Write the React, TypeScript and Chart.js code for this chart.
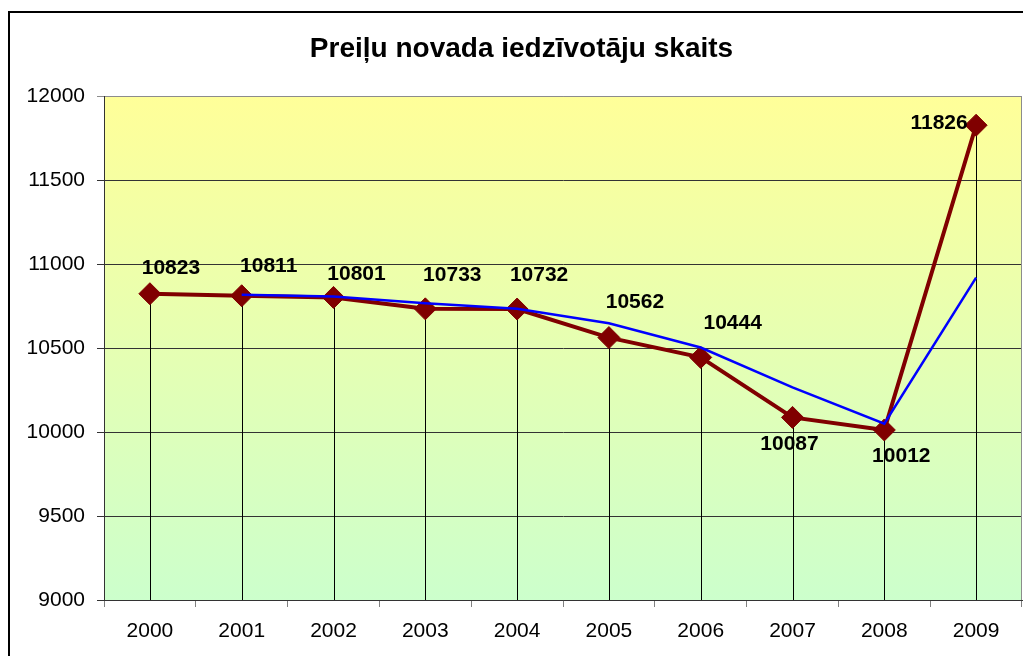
import React, { useEffect, useRef } from "react";
import { Chart, registerables } from "chart.js";

Chart.register(...registerables);

const TITLE = "Preiļu novada iedzīvotāju skaits";
const years = ["2000", "2001", "2002", "2003", "2004", "2005", "2006", "2007", "2008", "2009"];
const population = [10823, 10811, 10801, 10733, 10732, 10562, 10444, 10087, 10012, 11826];
// 2-period moving average trendline
const trend = [null, 10817, 10806, 10767, 10733, 10647, 10503, 10266, 10050, 10919];
const yMin = 9000;
const yMax = 12000;
const yStep = 500;

// label offsets relative to the point (pixels)
const labelDx = [21, 27, 23, 27, 22, 26, 32, -3, 17, -37];
const labelDy = [-26, -30, -23, -34, -34, -35, -34, 27, 26, -2];

const FONT = '"Liberation Sans", Arial, Helvetica, sans-serif';

const decorPlugin = {
  id: "decor",
  beforeDraw(chart: any) {
    const { ctx, chartArea: a } = chart;
    ctx.save();
    ctx.fillStyle = "#ffffff";
    ctx.fillRect(0, 0, chart.width, chart.height);
    const g = ctx.createLinearGradient(0, a.top, 0, a.bottom);
    g.addColorStop(0, "#FFFF99");
    g.addColorStop(1, "#CCFFCC");
    ctx.fillStyle = g;
    ctx.fillRect(a.left, a.top, a.right - a.left, a.bottom - a.top);
    // outer chart border
    ctx.strokeStyle = "#000";
    ctx.lineWidth = 2;
    ctx.beginPath();
    ctx.moveTo(9, chart.height + 5);
    ctx.lineTo(9, 12);
    ctx.lineTo(chart.width + 5, 12);
    ctx.stroke();
    // title
    ctx.fillStyle = "#000";
    ctx.font = "bold 28px " + FONT;
    ctx.textAlign = "center";
    ctx.textBaseline = "alphabetic";
    ctx.fillText(TITLE, 521.5, 57);
    ctx.restore();
  },
  beforeDatasetsDraw(chart: any) {
    const { ctx, chartArea: a } = chart;
    ctx.save();
    // plot area top/right border
    ctx.strokeStyle = "#8c8c8c";
    ctx.lineWidth = 1;
    ctx.beginPath();
    ctx.moveTo(a.left + 1, a.top + 0.5);
    ctx.lineTo(a.right - 0.5, a.top + 0.5);
    ctx.lineTo(a.right - 0.5, a.bottom);
    ctx.stroke();
    // drop lines
    const meta = chart.getDatasetMeta(0);
    ctx.strokeStyle = "#000";
    ctx.lineWidth = 1;
    meta.data.forEach((pt: any) => {
      const x = Math.round(pt.x) + 0.5;
      ctx.beginPath();
      ctx.moveTo(x, pt.y);
      ctx.lineTo(x, a.bottom);
      ctx.stroke();
    });
    ctx.restore();
  },
  afterDatasetsDraw(chart: any) {
    const { ctx } = chart;
    const meta = chart.getDatasetMeta(0);
    ctx.save();
    ctx.fillStyle = "#000";
    ctx.font = "bold 21px " + FONT;
    ctx.textAlign = "center";
    ctx.textBaseline = "middle";
    meta.data.forEach((pt: any, i: number) => {
      ctx.fillText(String(population[i]), pt.x + labelDx[i], pt.y + labelDy[i]);
    });
    ctx.restore();
  },
};

export default function App() {
  const ref = useRef<HTMLCanvasElement | null>(null);
  useEffect(() => {
    if (!ref.current) return;
    Chart.defaults.font.family = FONT;
    const chart = new Chart(ref.current, {
      type: "line",
      data: {
        labels: years,
        datasets: [
          {
            label: "Iedzīvotāju skaits",
            data: population,
            borderColor: "#800000",
            backgroundColor: "#800000",
            borderWidth: 4,
            pointStyle: "rectRot",
            pointRadius: 11,
            pointBorderWidth: 1,
            pointBorderColor: "#800000",
            pointBackgroundColor: "#800000",
            tension: 0,
            clip: false,
            order: 1,
          },
          {
            label: "Trend",
            data: trend,
            borderColor: "#0000FF",
            backgroundColor: "#0000FF",
            borderWidth: 2.5,
            pointRadius: 0,
            tension: 0,
            spanGaps: false,
            clip: false,
            order: 0,
          },
        ],
      },
      options: {
        animation: false,
        responsive: true,
        maintainAspectRatio: false,
        layout: { autoPadding: false, padding: { left: 0, top: 96, right: 1, bottom: 0 } },
        plugins: {
          legend: { display: false },
          title: { display: false },
          tooltip: { enabled: false },
        },
        scales: {
          x: {
            type: "category",
            offset: true,
            grid: {
              offset: true,
              drawOnChartArea: false,
              drawTicks: true,
              tickLength: 7,
              color: "#808080",
            },
            border: { color: "#333", width: 1 },
            ticks: {
              color: "#000",
              font: { size: 21 },
              padding: 12,
              maxRotation: 0,
              autoSkip: false,
            },
            afterFit: (s: any) => {
              s.height = 56;
              s.paddingLeft = 0;
              s.paddingRight = 0;
            },
          },
          y: {
            min: yMin,
            max: yMax,
            ticks: {
              stepSize: yStep,
              color: "#000",
              font: { size: 21 },
              padding: 12,
              callback: (v: any) => String(v),
            },
            grid: {
              color: (c: any) => (c.tick && c.tick.value === yMax ? "#8c8c8c" : "#333"),
              tickLength: 7,
              drawTicks: true,
            },
            border: { color: "#333", width: 1 },
            afterFit: (s: any) => {
              s.width = 104;
              s.paddingTop = 0;
              s.paddingBottom = 0;
            },
          },
        },
      },
      plugins: [decorPlugin],
    });
    return () => chart.destroy();
  }, []);
  return (
    <div style={{ position: "fixed", left: 0, top: 0, width: 1023, height: 656 }}>
      <canvas ref={ref} />
    </div>
  );
}
